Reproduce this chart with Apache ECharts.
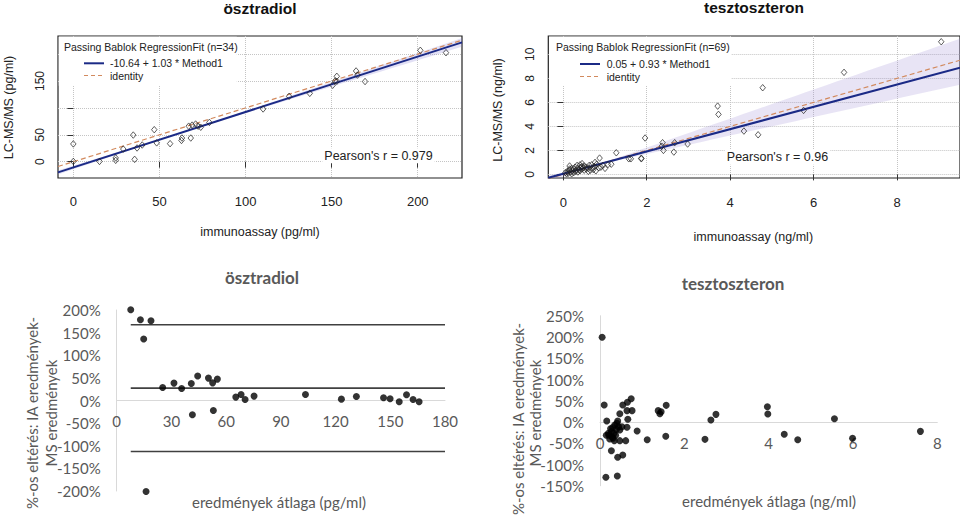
<!DOCTYPE html>
<html><head><meta charset="utf-8">
<script src="https://cdn.jsdelivr.net/npm/echarts@6/dist/echarts.min.js"></script>
<style>html,body{margin:0;padding:0;background:#fff}#c{width:960px;height:516px}</style>
</head><body><div id="c"></div>
<script>
// ---------- DATA ----------
// Top-left: ösztradiol Passing-Bablok (immunoassay vs LC-MS/MS, pg/ml)
const e2IA = [0,0,15.2,24.6,24.6,29,34.8,35.6,37,40,47,48.4,56.2,62.8,63.1,68.2,67,69,71,72.5,74,79,110.2,125.3,137.3,150.6,152,153,153,164.2,165,169.4,201.5,216.4];
const e2MS = [33,0.5,0.5,7,2.5,23.5,49.5,4.4,25.5,31,59.5,35,33.5,39.5,44,44,66,68,70,66,64,73,98,121.5,127,142,150,149.4,158.7,168.6,161,149,207,202.6];
const e2Fit = [-10.64, 1.03];          // intercept, slope
const e2BandA = [-7.5, 0.98];          // confidence band edge (intercept, slope)
const e2BandB = [-14.0, 1.08];
const e2XTicks = [0,50,100,150,200];
const e2YTicks = [0,50,100,150,200];
const e2YLabels = [0,50,150];

// Top-right: tesztoszteron Passing-Bablok (ng/ml)
const tIA = [9.06,6.73,4.78,3.70,3.72,5.76,4.33,4.67,1.96,2.38,2.36,2.40,2.65,2.67,2.98,1.27,1.57,1.62,1.87,1.87,0.87,0.76,1.07,
  0.05,0.08,0.1,0.12,0.15,0.15,0.18,0.2,0.22,0.25,0.25,0.28,0.3,0.3,0.33,0.35,0.38,0.4,0.4,0.42,0.45,0.45,0.48,0.5,0.5,0.55,0.55,0.6,0.62,0.65,0.7,0.72,0.75,0.78,0.8,0.85,0.9,0.95,1.0,1.15,0.15,0.35,0.6,0.68,0.2,0.45];
const tMS = [11.05,8.5,7.22,5.69,5.0,5.33,3.61,3.3,3.03,2.64,2.35,2.0,1.86,2.64,2.53,1.8,1.3,1.3,1.35,1.3,1.36,1.0,0.82,
  0.15,0.05,0.25,0.1,0.35,0.7,0.2,0.5,0.3,0.45,0.15,0.6,0.35,0.25,0.75,0.5,0.4,0.8,0.3,0.6,0.45,0.9,0.55,0.35,0.7,0.45,0.6,0.5,0.75,0.35,0.55,0.4,0.65,0.3,0.85,0.55,0.6,0.75,0.5,0.85,0.45,0.2,0.25,0.8,0.05,0.65];
const tFit = [0.05, 0.93];
const tBandA = [0.16, 0.769];
const tBandB = [-0.18, 1.208];
const tXTicks = [0,2,4,6,8];
const tYTicks = [0,2,4,6,8,10];

// Bottom-left: ösztradiol % difference vs mean
const baE2x = [7.7,13,18.8,14.8,16.1,25.2,31.4,35.6,40.9,44.4,41.5,50.3,52.6,55.2,53,65.3,68.2,70.4,75.3,103.5,123.2,131.4,146.3,149.9,154.9,158.9,162.5,165.8];
const baE2y = [200.7,178.5,176.3,135.8,-201,28.8,38.4,26.6,37.6,54,-31.6,49.5,39,47.3,-22,7.5,13.3,2.2,9.7,13.3,3,8.9,6,3.8,-2.9,12.6,2.2,-2.9];
const baE2Lines = [167.5, 27.4, -112.8];   // upper limit, mean, lower limit
const baE2LineX = [7.7, 180];
const baE2XTicks = [0,30,60,90,120,150,180];

// Bottom-right: tesztoszteron % difference vs mean
const baTx = [0.05,0.10,0.16,0.14,0.41,0.27,0.42,0.54,0.54,0.65,0.74,0.47,0.64,0.76,0.66,0.64,0.61,0.47,0.42,0.88,1.12,1.38,1.42,1.45,1.57,1.56,2.49,2.63,2.75,3.97,3.98,4.37,4.69,5.56,5.99,7.6,
  0.20,0.25,0.29,0.33,0.35,0.39,0.31,0.23,0.27,0.37,0.47,0.40,0.30,0.21,0.15,0.44,0.34,0.52];
const baTy = [199.3,40,2.4,-130,-127,-67.5,-83,-77.6,40,46.3,54.8,19.5,26.7,26.7,6.3,-12.5,-43.9,-43.9,2.4,-21,-41.6,26.7,19.5,24.3,39.2,-33.7,-40.8,4.7,18,36,18.8,-29,-41.6,7.8,-38.4,-22,
  -26.7,-16,-36,-26.7,-7,-17.3,-38,-40,-22.7,-31,-18.8,-3.1,-13,-31,-31,-11,-44,-11];
const baTLines = [109, -7.8, -124];
const baTLineX = [0.05, 7.6];
const baTXTicks = [0,2,4,6,8];

// ---------- HELPERS ----------
const zip = (a, b) => a.map((v, i) => [v, b[i]]);
const R_FONT = 'Liberation Sans, Arial, sans-serif';
const X_FONT = 'Lato, "Open Sans", sans-serif';

function fitLine(xi, coef, x0, x1, style) {
  return { type: 'line', xAxisIndex: xi, yAxisIndex: xi, showSymbol: false, silent: true, clip: true, z: 3,
    data: [[x0, coef[0] + coef[1] * x0], [x1, coef[0] + coef[1] * x1]], lineStyle: style };
}
function bandSeries(xi, A, B, x0, x1, color) {
  return { type: 'custom', xAxisIndex: xi, yAxisIndex: xi, silent: true, z: 2, data: [0],
    renderItem: (params, api) => {
      const top = [], bot = [], n = 40;
      for (let i = 0; i <= n; i++) {
        const x = x0 + (x1 - x0) * i / n;
        const a = A[0] + A[1] * x, b = B[0] + B[1] * x;
        top.push(api.coord([x, Math.max(a, b)]));
        bot.unshift(api.coord([x, Math.min(a, b)]));
      }
      const cs = params.coordSys;
      return { type: 'polygon', shape: { points: top.concat(bot) }, style: { fill: color },
        clipPath: { type: 'rect', shape: { x: cs.x, y: cs.y, width: cs.width, height: cs.height } } };
    } };
}
function rXAxis(gi, min, max, ticks, margin) {
  return { gridIndex: gi, type: 'value', min, max,
    axisLine: { show: false },
    axisTick: { show: true, customValues: ticks, length: 6, lineStyle: { color: '#333' } },
    axisLabel: { customValues: ticks, margin, fontSize: 13, color: '#222', fontFamily: R_FONT },
    splitLine: { show: true, lineStyle: { type: 'dotted', color: '#c4c4c4' } } };
}
function rYAxis(gi, min, max, ticks, labels) {
  return { gridIndex: gi, type: 'value', min, max,
    axisLine: { show: false },
    axisTick: { show: true, customValues: ticks, length: 6, lineStyle: { color: '#333' } },
    axisLabel: { customValues: labels, rotate: 90, margin: 12, fontSize: 12, color: '#222', fontFamily: R_FONT },
    splitLine: { show: true, lineStyle: { type: 'dotted', color: '#c4c4c4' } } };
}
// Excel-style x axis drawn across the 0% level (offset moves it up from the grid bottom)
function xlXAxis(gi, min, max, ticks, offset) {
  return { gridIndex: gi, type: 'value', min, max, offset,
    axisLine: { show: true, onZero: false, lineStyle: { color: '#d9d9d9', width: 1 } },
    axisTick: { show: false, customValues: ticks },
    axisLabel: { customValues: ticks, margin: 13, fontSize: 15, color: '#595959', fontFamily: X_FONT,
      showMinLabel: true, showMaxLabel: true, hideOverlap: false },
    splitLine: { show: false } };
}
function xlYAxis(gi, min, max, interval) {
  return { gridIndex: gi, type: 'value', min, max, interval,
    axisLine: { show: true, onZero: false, lineStyle: { color: '#d9d9d9', width: 1 } },
    axisTick: { show: false },
    axisLabel: { margin: 16, fontSize: 15, color: '#595959', fontFamily: X_FONT, formatter: '{value}%', showMinLabel: true, showMaxLabel: true },
    splitLine: { show: false } };
}
function limitLines(gi, xs, ys, gradient) {
  return ys.map((y, k) => ({ type: 'line', xAxisIndex: gi, yAxisIndex: gi, showSymbol: false, silent: true, z: 2,
    data: [[xs[0], y], [xs[1], y]],
    lineStyle: { width: k === 1 && gradient ? 2 : 1.6,
      color: gradient ? new echarts.graphic.LinearGradient(0, 0, 1, 0, [
        { offset: 0, color: k === 1 ? '#111' : '#3a3a3a' }, { offset: 0.55, color: k === 1 ? '#222' : '#555' }, { offset: 1, color: '#e4e4e4' }])
        : '#404040' } }));
}
function txt(x, y, text, font, fill, align, extra) {
  return Object.assign({ type: 'text', x, y, z: 101,
    style: Object.assign({ text, font, fill, align: align || 'center', verticalAlign: 'middle',
      textAlign: align || 'center', textVerticalAlign: 'middle' }, extra || {}) });
}

// ---------- CHART ----------
const chart = echarts.init(document.getElementById('c'), null, { renderer: 'svg' });
const blue = '#1b2a86', orange = '#d28a5e';
const option = {
  animation: false,
  backgroundColor: '#fff',
  grid: [
    { left: 58, top: 36, width: 404, height: 142, show: true, borderColor: '#222', borderWidth: 1.2, backgroundColor: 'transparent' },
    { left: 548.3, top: 36, width: 414, height: 142, show: true, borderColor: '#222', borderWidth: 1.2, backgroundColor: 'transparent' },
    { left: 116.7, top: 310, width: 328.3, height: 181 },
    { left: 600, top: 315.75, width: 337.3, height: 170 }
  ],
  xAxis: [
    rXAxis(0, -8.9, 225.7, e2XTicks, 17),
    rXAxis(1, -0.36, 9.51, tXTicks, 18),
    xlXAxis(2, 0, 180, baE2XTicks, -90.5),
    xlXAxis(3, 0, 8, baTXTicks, -63.75)
  ],
  yAxis: [
    rYAxis(0, -30.3, 233.6, e2YTicks, e2YLabels),
    rYAxis(1, -0.3, 11.53, tYTicks, tYTicks),
    xlYAxis(2, -200, 200, 50),
    xlYAxis(3, -150, 250, 50)
  ],
  series: [
    bandSeries(0, e2BandA, e2BandB, -8.9, 225.7, 'rgba(125,115,210,0.22)'),
    fitLine(0, [0, 1], -8.9, 225.7, { color: orange, width: 1.2, type: [5, 3] }),
    fitLine(0, e2Fit, -8.9, 225.7, { color: blue, width: 2 }),
    { type: 'scatter', xAxisIndex: 0, yAxisIndex: 0, z: 4, symbol: 'diamond', symbolSize: [5.5, 6.5],
      itemStyle: { color: 'rgba(255,255,255,0)', borderColor: '#222', borderWidth: 0.9 }, data: zip(e2IA, e2MS) },

    bandSeries(1, tBandA, tBandB, -0.36, 9.51, 'rgba(150,130,210,0.22)'),
    fitLine(1, [0, 1], -0.36, 9.51, { color: orange, width: 1.2, type: [5, 3] }),
    fitLine(1, tFit, -0.36, 9.51, { color: blue, width: 2 }),
    { type: 'scatter', xAxisIndex: 1, yAxisIndex: 1, z: 4, symbol: 'diamond', symbolSize: [5.5, 6.5],
      itemStyle: { color: 'rgba(255,255,255,0)', borderColor: '#222', borderWidth: 0.9 }, data: zip(tIA, tMS) },

    ...limitLines(2, baE2LineX, baE2Lines, false),
    { type: 'scatter', xAxisIndex: 2, yAxisIndex: 2, z: 4, clip: false, symbol: 'circle', symbolSize: 7,
      itemStyle: { color: '#000' }, data: zip(baE2x, baE2y) },

    ...limitLines(3, baTLineX, baTLines, true),
    { type: 'scatter', xAxisIndex: 3, yAxisIndex: 3, z: 4, clip: false, symbol: 'circle', symbolSize: 7,
      itemStyle: { color: '#000' }, data: zip(baTx, baTy) }
  ],
  graphic: { elements: [
    // titles
    txt(260, 8, 'ösztradiol', 'bold 15.5px ' + R_FONT, '#111'),
    txt(754, 7, 'tesztoszteron', 'bold 15.5px ' + R_FONT, '#111'),
    txt(262, 277, 'ösztradiol', 'bold 17px ' + X_FONT, '#595959'),
    txt(733, 283, 'tesztoszteron', 'bold 17px ' + X_FONT, '#595959'),
    // top-left legend
    { type: 'rect', z: 100, shape: { x: 58.8, y: 36.8, width: 178, height: 49 }, style: { fill: '#fff' } },
    txt(64, 47.3, 'Passing Bablok RegressionFit (n=34)', '10.5px ' + R_FONT, '#222', 'left'),
    { type: 'line', z: 101, shape: { x1: 84, y1: 63.3, x2: 104, y2: 63.3 }, style: { stroke: blue, lineWidth: 2 } },
    { type: 'line', z: 101, shape: { x1: 84, y1: 75.5, x2: 104, y2: 75.5 }, style: { stroke: orange, lineWidth: 1.2, lineDash: [4, 3] } },
    txt(110, 63.3, '-10.64 + 1.03 * Method1', '10.5px ' + R_FONT, '#222', 'left'),
    txt(110, 75.5, 'identity', '10.5px ' + R_FONT, '#222', 'left'),
    txt(378.5, 155.7, "Pearson's r = 0.979", '12.5px ' + R_FONT, '#222', 'center', { backgroundColor: '#fff', padding: [1, 2] }),
    // top-right legend
    { type: 'rect', z: 100, shape: { x: 549.1, y: 36.8, width: 182, height: 49 }, style: { fill: '#fff' } },
    txt(556, 47.3, 'Passing Bablok RegressionFit (n=69)', '10.5px ' + R_FONT, '#222', 'left'),
    { type: 'line', z: 101, shape: { x1: 580, y1: 64, x2: 600, y2: 64 }, style: { stroke: blue, lineWidth: 2 } },
    { type: 'line', z: 101, shape: { x1: 580, y1: 76.5, x2: 600, y2: 76.5 }, style: { stroke: orange, lineWidth: 1.2, lineDash: [4, 3] } },
    txt(606.7, 64, '0.05 + 0.93 * Method1', '10.5px ' + R_FONT, '#222', 'left'),
    txt(606.7, 76.5, 'identity', '10.5px ' + R_FONT, '#222', 'left'),
    txt(777.5, 157.3, "Pearson's r = 0.96", '12.5px ' + R_FONT, '#222', 'center', { backgroundColor: '#fff', padding: [1, 2] }),
    // top axis names
    txt(260, 232, 'immunoassay (pg/ml)', '12.5px ' + R_FONT, '#222'),
    txt(753.3, 236.7, 'immunoassay (ng/ml)', '12.5px ' + R_FONT, '#222'),
    Object.assign(txt(9, 107.5, 'LC-MS/MS (pg/ml)', '12.5px ' + R_FONT, '#222'), { rotation: Math.PI / 2 }),
    Object.assign(txt(497.5, 110, 'LC-MS/MS (ng/ml)', '12.5px ' + R_FONT, '#222'), { rotation: Math.PI / 2 }),
    // bottom axis names
    txt(279, 502, 'eredmények átlaga (pg/ml)', '15px ' + X_FONT, '#595959'),
    txt(769, 500.7, 'eredmények átlaga (ng/ml)', '15px ' + X_FONT, '#595959'),
    Object.assign(txt(32, 413, '%-os eltérés: IA eredmények-', '15px ' + X_FONT, '#595959'), { rotation: Math.PI / 2 }),
    Object.assign(txt(50.5, 413, 'MS eredmények', '15px ' + X_FONT, '#595959'), { rotation: Math.PI / 2 }),
    Object.assign(txt(517.5, 419, '%-os eltérés: IA eredmények-', '15px ' + X_FONT, '#595959'), { rotation: Math.PI / 2 }),
    Object.assign(txt(535, 413, 'MS eredmények', '15px ' + X_FONT, '#595959'), { rotation: Math.PI / 2 })
  ] }
};
chart.setOption(option);
</script>
</body></html>
